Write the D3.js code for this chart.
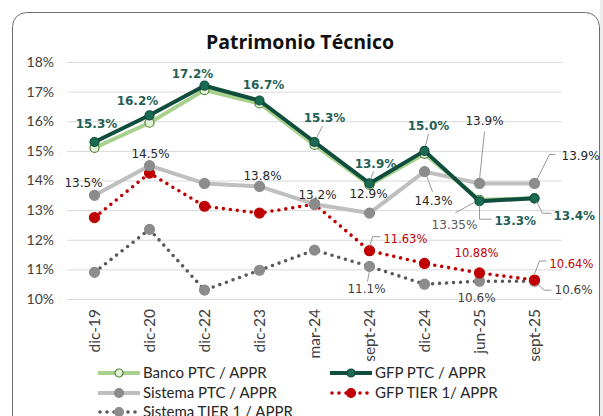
<!DOCTYPE html>
<html>
<head>
<meta charset="utf-8">
<script src="https://cdn.jsdelivr.net/npm/d3@7"></script>
<style>
  body { margin: 0; background: #fff; }
  svg { display: block; }
</style>
</head>
<body>
<div id="chart-area"></div>
<script>
// data
const categories = ["dic-19", "dic-20", "dic-22", "dic-23", "mar-24", "sept-24", "dic-24", "jun-25", "sept-25"]
const bancoPTC = [15.1, 15.95, 17.05, 16.6, 15.2, 13.85, 14.9, 13.35, 13.4]
const gfpPTC = [15.3, 16.2, 17.2, 16.7, 15.3, 13.9, 15.0, 13.3, 13.4]
const sistemaPTC = [13.5, 14.5, 13.9, 13.8, 13.2, 12.9, 14.3, 13.9, 13.9]
const gfpTier1 = [12.75, 14.25, 13.13, 12.9, 13.2, 11.63, 11.2, 10.88, 10.64]
const sistemaTier1 = [10.9, 12.35, 10.3, 10.97, 11.65, 11.1, 10.5, 10.6, 10.6]
const yTicks = [10, 11, 12, 13, 14, 15, 16, 17, 18]

const W = 603, H = 416

const svg = d3.select("#chart-area").append("svg")
    .attr("width", W)
    .attr("height", H)

// grey strip right of the frame + rounded frame
svg.append("rect").attr("x", 600).attr("y", 0).attr("width", 3).attr("height", H).attr("fill", "#ededed")
svg.append("rect")
    .attr("x", 12.5).attr("y", 12.5)
    .attr("width", 587).attr("height", 440)
    .attr("rx", 14)
    .attr("fill", "#fff")
    .attr("stroke", "#6d6d6d")
    .attr("stroke-width", 1)

svg.append("text")
    .attr("x", 300).attr("y", 49)
    .attr("text-anchor", "middle")
    .attr("font-family", "'Open Sans', sans-serif")
    .attr("font-weight", 700)
    .attr("font-size", 19.5)
    .attr("fill", "#111")
    .text("Patrimonio Técnico")

const x = d3.scaleBand().domain(categories).range([67, 562])
const y = d3.scaleLinear().domain([10, 18]).range([299, 62])
const cx = i => x(categories[i]) + x.bandwidth() / 2

// gridlines + y labels
const yAxis = svg.append("g")
    .attr("transform", "translate(67,0)")
    .call(d3.axisLeft(y).tickValues(yTicks).tickSize(-495).tickFormat(d => d + "%"))
yAxis.select(".domain").remove()
yAxis.selectAll(".tick line").attr("stroke", "#d9d9d9").attr("stroke-width", 1)
yAxis.selectAll(".tick text")
    .attr("x", -13)
    .attr("font-family", "Lato, sans-serif")
    .attr("font-size", 14)
    .attr("fill", "#404040")

// x labels (rotated)
const xAxis = svg.append("g")
    .attr("transform", "translate(0,299)")
    .call(d3.axisBottom(x).tickSize(0).tickPadding(0))
xAxis.select(".domain").remove()
xAxis.selectAll(".tick text")
    .attr("transform", "translate(0,10) rotate(-90)")
    .attr("text-anchor", "end")
    .attr("x", 0).attr("y", 0).attr("dy", "0.35em")
    .attr("font-family", "Lato, sans-serif")
    .attr("font-size", 15.5)
    .attr("fill", "#404040")

const series = {
    sistemaTier1: { values: sistemaTier1, name: "Sistema TIER 1 / APPR", stroke: "#595959", width: 3.6, dots: true, mFill: "#8c8c8c", mStroke: "#8c8c8c", r: 5 },
    gfpTier1: { values: gfpTier1, name: "GFP TIER 1/ APPR", stroke: "#c00000", width: 3.6, dots: true, mFill: "#c00000", mStroke: "#c00000", r: 5 },
    sistemaPTC: { values: sistemaPTC, name: "Sistema PTC / APPR", stroke: "#bfbfbf", width: 4, dots: false, mFill: "#8c8c8c", mStroke: "#8c8c8c", r: 5 },
    bancoPTC: { values: bancoPTC, name: "Banco PTC / APPR", stroke: "#a9d18e", width: 4, dots: false, mFill: "#e2f0d9", mStroke: "#548235", r: 4.5 },
    gfpPTC: { values: gfpPTC, name: "GFP PTC / APPR", stroke: "#0f4d3c", width: 4, dots: false, mFill: "#1a6b52", mStroke: "#0f4d3c", r: 4.5 }
}
const drawOrder = ["sistemaTier1", "gfpTier1", "sistemaPTC", "bancoPTC", "gfpPTC"]

const line = d3.line().x((d, i) => cx(i)).y(d => y(d))

drawOrder.forEach(key => {
    const s = series[key]
    svg.append("path")
        .datum(s.values)
        .attr("d", line)
        .attr("fill", "none")
        .attr("stroke", s.stroke)
        .attr("stroke-width", s.width)
        .attr("stroke-linecap", "round")
        .attr("stroke-linejoin", "round")
        .attr("stroke-dasharray", s.dots ? "0 7" : null)
    svg.selectAll(".m-" + key)
        .data(s.values)
        .enter().append("circle")
        .attr("class", "m-" + key)
        .attr("cx", (d, i) => cx(i))
        .attr("cy", d => y(d))
        .attr("r", s.r)
        .attr("fill", s.mFill)
        .attr("stroke", s.mStroke)
        .attr("stroke-width", 1.2)
})

// data labels: series, index, decimals, offset from point, anchor, optional leader (offsets from point)
const labelColor = { gfpPTC: "#1f5f55", sistemaPTC: "#262626", bancoPTC: "#595959", gfpTier1: "#c00000", sistemaTier1: "#404040" }
const labels = [
    { s: "gfpPTC", i: 0, dec: 1, dx: 2, dy: -14 },
    { s: "gfpPTC", i: 1, dec: 1, dx: -12, dy: -10 },
    { s: "gfpPTC", i: 2, dec: 1, dx: -12, dy: -8 },
    { s: "gfpPTC", i: 3, dec: 1, dx: 4, dy: -12 },
    { s: "gfpPTC", i: 4, dec: 1, dx: 10, dy: -20, leader: [[2, -4], [8, -16]] },
    { s: "gfpPTC", i: 5, dec: 1, dx: 6, dy: -15, leader: [[1, -4], [4, -12]] },
    { s: "gfpPTC", i: 6, dec: 1, dx: 4, dy: -21, leader: [[1, -5], [4, -17]] },
    { s: "gfpPTC", i: 7, dec: 1, dx: 15, dy: 24, anchor: "start", leader: [[0, 4], [0, 18], [12, 18]] },
    { s: "gfpPTC", i: 8, dec: 1, dx: 19, dy: 22, anchor: "start", leader: [[2, 3], [8, 15], [17, 15]] },
    { s: "bancoPTC", i: 7, dec: 2, dx: -25, dy: 29, leader: [[-4, 2], [-24, 13]] },
    { s: "sistemaPTC", i: 0, dec: 1, dx: -11, dy: -8 },
    { s: "sistemaPTC", i: 1, dec: 1, dx: 1, dy: -8 },
    { s: "sistemaPTC", i: 3, dec: 1, dx: 3, dy: -6 },
    { s: "sistemaPTC", i: 4, dec: 1, dx: 3, dy: -5 },
    { s: "sistemaPTC", i: 5, dec: 1, dx: -1, dy: -15 },
    { s: "sistemaPTC", i: 6, dec: 1, dx: 9, dy: 33, leader: [[2, 4], [8, 20]] },
    { s: "sistemaPTC", i: 7, dec: 1, dx: 5, dy: -58, leader: [[0, -4], [5, -52]] },
    { s: "sistemaPTC", i: 8, dec: 1, dx: 27, dy: -23, anchor: "start", leader: [[2, -3], [15, -29], [21, -29]] },
    { s: "gfpTier1", i: 5, dec: 2, dx: 14, dy: -8, anchor: "start", leader: [[0, -4], [3, -14], [11, -14]] },
    { s: "gfpTier1", i: 7, dec: 2, dx: -3, dy: -16 },
    { s: "gfpTier1", i: 8, dec: 2, dx: 15, dy: -12, anchor: "start", leader: [[0, -6], [5, -19], [12, -19]] },
    { s: "sistemaTier1", i: 5, dec: 1, dx: -3, dy: 27, leader: [[0, 4], [-2, 15]] },
    { s: "sistemaTier1", i: 7, dec: 1, dx: -3, dy: 21 },
    { s: "sistemaTier1", i: 8, dec: 1, dx: 20, dy: 13, anchor: "start", leader: [[3, 3], [10, 9], [17, 9]] }
]

labels.forEach(l => {
    const v = series[l.s].values[l.i]
    const px = cx(l.i), py = y(v)
    if (l.leader) {
        svg.append("path")
            .attr("d", d3.line()(l.leader.map(p => [px + p[0], py + p[1]])))
            .attr("fill", "none")
            .attr("stroke", "#8c8c8c")
            .attr("stroke-width", 0.9)
    }
    svg.append("text")
        .attr("x", px + l.dx)
        .attr("y", py + l.dy)
        .attr("text-anchor", l.anchor || "middle")
        .attr("font-family", "'DejaVu Sans', sans-serif")
        .attr("font-size", l.s === "gfpTier1" ? 11.5 : 12)
        .attr("font-weight", l.s === "gfpPTC" ? 700 : 400)
        .attr("fill", labelColor[l.s])
        .text(v.toFixed(l.dec) + "%")
})

// legend (last row is clipped by the window, as in the source)
const legendItems = [
    { key: "bancoPTC", x: 98, y: 373 },
    { key: "gfpPTC", x: 330, y: 373 },
    { key: "sistemaPTC", x: 98, y: 393 },
    { key: "gfpTier1", x: 330, y: 393 },
    { key: "sistemaTier1", x: 98, y: 412 }
]
const legend = svg.selectAll(".legend")
    .data(legendItems)
    .enter().append("g")
    .attr("class", "legend")
    .attr("transform", d => `translate(${d.x},${d.y})`)
legend.append("line")
    .attr("x1", d => series[d.key].dots ? 2 : 0)
    .attr("x2", 42)
    .attr("stroke", d => series[d.key].stroke)
    .attr("stroke-width", d => series[d.key].width)
    .attr("stroke-linecap", d => series[d.key].dots ? "round" : "butt")
    .attr("stroke-dasharray", d => series[d.key].dots ? "0 7" : null)
legend.append("circle")
    .attr("cx", 21)
    .attr("r", d => series[d.key].r - 0.5)
    .attr("fill", d => series[d.key].mFill)
    .attr("stroke", d => series[d.key].mStroke)
    .attr("stroke-width", 1.2)
legend.append("text")
    .attr("x", 45)
    .attr("dy", "0.36em")
    .attr("font-family", "Lato, sans-serif")
    .attr("font-size", 15)
    .attr("fill", "#262626")
    .text(d => series[d.key].name)
</script>
</body>
</html>
